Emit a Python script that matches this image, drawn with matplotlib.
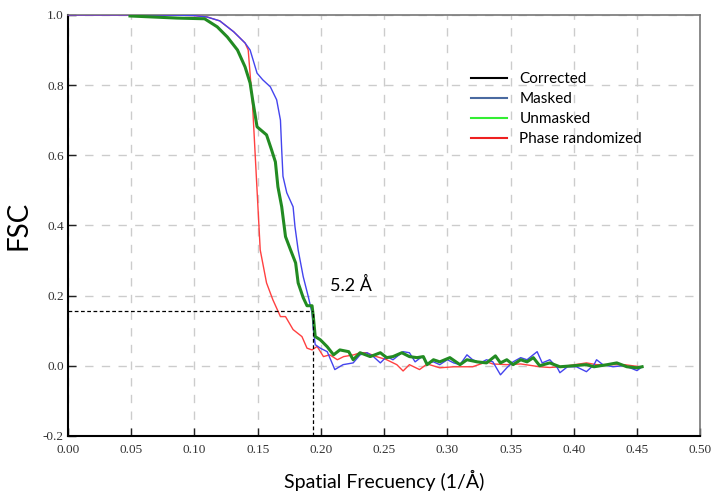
import matplotlib
matplotlib.use("Agg")
import matplotlib.pyplot as plt
from matplotlib.lines import Line2D

# values
red_x = [0.0, 0.05, 0.09, 0.10, 0.11, 0.12, 0.131, 0.14, 0.1425, 0.146, 0.1495, 0.152,
         0.157, 0.162, 0.168, 0.172, 0.178, 0.185, 0.189, 0.193, 0.197, 0.202, 0.207,
         0.213, 0.218, 0.226, 0.231, 0.236, 0.244, 0.252, 0.26, 0.265, 0.27, 0.278,
         0.284, 0.294, 0.305, 0.32, 0.331, 0.336, 0.347, 0.358, 0.373, 0.381, 0.39,
         0.41, 0.418, 0.431, 0.44, 0.4525]
red_y = [1.0, 1.0, 0.999, 0.998, 0.994, 0.983, 0.952, 0.92, 0.90, 0.74, 0.50, 0.33,
         0.236, 0.188, 0.14, 0.14, 0.103, 0.083, 0.05, 0.045, 0.055, 0.026, 0.031,
         0.017, 0.026, 0.031, 0.037, 0.037, 0.026, 0.017, 0.003, -0.015, 0.003, -0.011,
         0.005, -0.006, -0.003, -0.003, 0.011, 0.005, 0.003, 0.005, -0.003, -0.005, -0.003,
         0.008, 0.003, 0.003, 0.003, -0.003]

blue_x = [0.0, 0.05, 0.09, 0.10, 0.11, 0.12, 0.131, 0.14, 0.144, 0.1495, 0.154, 0.16,
          0.165, 0.168, 0.169, 0.170, 0.173, 0.178, 0.1795, 0.182, 0.186, 0.19, 0.193,
          0.194, 0.1955, 0.1995, 0.205, 0.211, 0.2175, 0.2255, 0.231, 0.2365, 0.2415,
          0.247, 0.252, 0.257, 0.265, 0.27, 0.2745, 0.28, 0.284, 0.289, 0.294, 0.30,
          0.305, 0.31, 0.3155, 0.32, 0.326, 0.331, 0.336, 0.342, 0.347, 0.352, 0.358,
          0.363, 0.371, 0.375, 0.381, 0.387, 0.389, 0.395, 0.402, 0.41, 0.416, 0.418,
          0.423, 0.431, 0.439, 0.4445, 0.45, 0.454]
blue_y = [1.0, 1.0, 0.999, 0.998, 0.994, 0.983, 0.952, 0.92, 0.90, 0.834, 0.815, 0.795,
          0.758, 0.70, 0.615, 0.54, 0.493, 0.453, 0.396, 0.33, 0.254, 0.197, 0.15,
          0.103, 0.06, 0.05, 0.04, -0.011, 0.003, 0.008, 0.031, 0.037, 0.026,
          0.008, 0.026, 0.017, 0.04, 0.037, 0.011, 0.026, 0.008, 0.011, 0.003, 0.017,
          0.008, 0.003, 0.031, 0.017, 0.008, 0.017, 0.011, -0.026, -0.006, 0.011, 0.023,
          0.017, 0.04, 0.008, 0.017, -0.006, -0.02, -0.003, -0.003, -0.017, 0.003, 0.017,
          0.003, -0.003, 0.0, -0.006, -0.014, -0.003]

green_x = [0.049, 0.086, 0.108, 0.118, 0.126, 0.134, 0.14, 0.144, 0.146, 0.1495, 0.157,
           0.161, 0.164, 0.166, 0.169, 0.172, 0.176, 0.18, 0.182, 0.186, 0.189, 0.193,
           0.194, 0.1955, 0.1995, 0.205, 0.21, 0.215, 0.222, 0.2255, 0.231, 0.239, 0.247,
           0.252, 0.257, 0.264, 0.27, 0.276, 0.281, 0.284, 0.289, 0.294, 0.302, 0.31,
           0.3155, 0.3235, 0.331, 0.338, 0.342, 0.347, 0.352, 0.358, 0.363, 0.368, 0.373,
           0.381, 0.389, 0.40, 0.41, 0.416, 0.4265, 0.434, 0.442, 0.45, 0.454]
green_y = [0.997, 0.991, 0.989, 0.966, 0.937, 0.90, 0.852, 0.806, 0.758, 0.681, 0.658,
           0.615, 0.581, 0.51, 0.453, 0.368, 0.33, 0.293, 0.236, 0.194, 0.171, 0.171,
           0.14, 0.083, 0.074, 0.054, 0.031, 0.045, 0.04, 0.017, 0.037, 0.026, 0.037,
           0.023, 0.026, 0.037, 0.026, 0.023, 0.026, 0.003, 0.017, 0.011, 0.023, 0.003,
           0.017, 0.011, 0.008, 0.028, 0.008, 0.017, 0.003, 0.017, 0.011, 0.023, 0.0,
           0.008, -0.003, 0.0, 0.003, -0.003, 0.003, 0.008, -0.003, -0.006, -0.003]

cutoff_x = 0.1935
cutoff_y = 0.157
cutoff_label = "5.2 Å"

legend_labels = ["Corrected", "Masked", "Unmasked", "Phase randomized"]
legend_colors = ["black", "#4a6aa0", "#33ee33", "#ee2020"]

x_ticks = [0.0, 0.05, 0.10, 0.15, 0.20, 0.25, 0.30, 0.35, 0.40, 0.45, 0.50]
y_ticks = [-0.2, 0.0, 0.2, 0.4, 0.6, 0.8, 1.0]

sans = "Lato"

fig = plt.figure(figsize=(7.16, 4.97), dpi=100)
ax = fig.add_axes([0.095, 0.123, 0.883, 0.847])

ax.plot(red_x, red_y, color="#ff4040", linewidth=1.0, zorder=3)
ax.plot(blue_x, blue_y, color="#4444ee", linewidth=1.0, zorder=4)
ax.plot(green_x, green_y, color="#228b22", linewidth=2.2, zorder=5)

# resolution cutoff marker
ax.plot([0.0, cutoff_x], [cutoff_y, cutoff_y], color="black", linewidth=0.9,
        linestyle=(0, (3, 2)), zorder=6)
ax.plot([cutoff_x, cutoff_x], [-0.2, cutoff_y], color="black", linewidth=0.9,
        linestyle=(0, (3, 2)), zorder=6)
ax.text(0.207, 0.23, cutoff_label, fontsize=13, family=sans, va="center", ha="left")

ax.set_xlim(0.0, 0.5)
ax.set_ylim(-0.2, 1.0)
ax.set_xticks(x_ticks)
ax.set_yticks(y_ticks)
ax.set_xticklabels([f"{t:.2f}" for t in x_ticks])
ax.set_yticklabels([f"{t:.1f}" for t in y_ticks])
for lab in ax.get_xticklabels() + ax.get_yticklabels():
    lab.set_family("Liberation Serif")
    lab.set_fontsize(9.5)
    lab.set_color("#333333")
ax.tick_params(direction="in", length=6, width=1, color="#222222", pad=3)
ax.tick_params(axis="x", pad=6)

ax.grid(True, color="#cccccc", linestyle=(0, (6, 6)), linewidth=1.0)
ax.set_axisbelow(True)

for side in ["left", "bottom"]:
    ax.spines[side].set_color("black")
    ax.spines[side].set_linewidth(1.5)
for side in ["top", "right"]:
    ax.spines[side].set_color("#777777")
    ax.spines[side].set_linewidth(1.2)

ax.set_ylabel("FSC", fontsize=20, family=sans, labelpad=8)
ax.set_xlabel("Spatial Frecuency (1/Å)", fontsize=14, family=sans, labelpad=10)

handles = [Line2D([], [], color=c, linewidth=1.5) for c in legend_colors]
leg = ax.legend(handles, legend_labels, loc="upper left", bbox_to_anchor=(0.615, 0.897),
                frameon=False, handlelength=2.4, handletextpad=0.8, labelspacing=0.4,
                prop={"family": sans, "size": 11})

fig.savefig("out.png", dpi=100)
